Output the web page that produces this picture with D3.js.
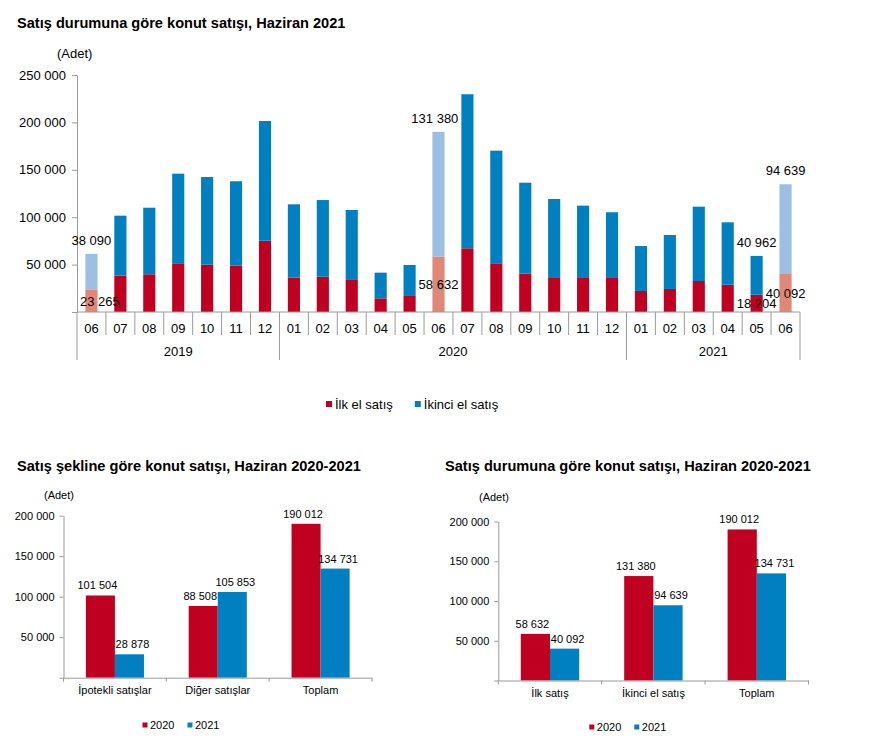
<!DOCTYPE html>
<html>
<head>
<meta charset="utf-8">
<script src="https://cdn.jsdelivr.net/npm/d3@7"></script>
<style>
  body { margin: 0; background: #fff; }
  svg { display: block; font-family: "Liberation Sans", Arial, sans-serif; }
  .title { font-weight: bold; font-size: 14.6px; fill: #000; }
</style>
</head>
<body>
<svg id="chart" width="872" height="746"></svg>
<script>
// --- top chart: monthly sales by status ---
const periods = ["2019-06","2019-07","2019-08","2019-09","2019-10","2019-11","2019-12",
  "2020-01","2020-02","2020-03","2020-04","2020-05","2020-06","2020-07","2020-08","2020-09","2020-10","2020-11","2020-12",
  "2021-01","2021-02","2021-03","2021-04","2021-05","2021-06"];
const ilkEl = [23265, 38300, 39800, 51400, 49900, 48800, 75200,
  36200, 37300, 33800, 14400, 16900, 58632, 67200, 51400, 40400, 35900, 35900, 35900,
  22200, 24300, 32700, 28800, 18204, 40092];
const ikinciEl = [38090, 63300, 70200, 94500, 92500, 89100, 126300,
  77400, 80800, 73800, 27100, 32700, 131380, 162500, 118800, 96000, 83300, 76300, 69300,
  47400, 56900, 78400, 65800, 40962, 94639];
const highlighted = ["2019-06", "2020-06", "2021-06"];
const labelled = ["2019-06", "2020-06", "2021-05", "2021-06"];
const topSeries = ["İlk el satış", "İkinci el satış"];
const topTicks = [0, 50000, 100000, 150000, 200000, 250000];

// --- bottom charts ---
const seriesYears = ["2020", "2021"];
const sekilCats = ["İpotekli satışlar", "Diğer satışlar", "Toplam"];
const sekil2020 = [101504, 88508, 190012];
const sekil2021 = [28878, 105853, 134731];
const durumCats = ["İlk satış", "İkinci el satış", "Toplam"];
const durum2020 = [58632, 131380, 190012];
const durum2021 = [40092, 94639, 134731];
const bottomTicks = [0, 50000, 100000, 150000, 200000];

const RED = "#c00020", BLUE = "#0080c0", RED_LIGHT = "#e08878", BLUE_LIGHT = "#9dc0e2";
const AXIS = "#9a9a9a";

const fmt = d3.formatLocale({decimal: ",", thousands: " ", grouping: [3], currency: ["", ""]}).format(",d");
const svg = d3.select("#chart");

drawTop();
drawGrouped({
  title: "Satış şekline göre konut satışı, Haziran 2020-2021",
  titleX: 17, adetX: 44, adetY: 499,
  x0: 63.5, x1: 372, yBase: 677.7, yMax: 515.7, legendX: 142.5, legendY: 725,
  cats: sekilCats, v2020: sekil2020, v2021: sekil2021
});
drawGrouped({
  title: "Satış durumuna göre konut satışı, Haziran 2020-2021",
  titleX: 445, adetX: 479, adetY: 501,
  x0: 498.3, x1: 808.5, yBase: 680.5, yMax: 521.5, legendX: 589.3, legendY: 727,
  cats: durumCats, v2020: durum2020, v2021: durum2021
});

function drawTop() {
  const left = 77, right = 800, base = 312, top = 75;

  svg.append("text").attr("class", "title").attr("x", 17).attr("y", 28)
    .text("Satış durumuna göre konut satışı, Haziran 2021");
  svg.append("text").attr("x", 57).attr("y", 58).attr("font-size", 13).text("(Adet)");

  const x = d3.scaleBand().domain(periods).range([left, right]);
  const y = d3.scaleLinear().domain([0, 250000]).range([base, top]);
  const barW = x.bandwidth() * 0.42;
  const barX = p => x(p) + (x.bandwidth() - barW) / 2;

  const yAxis = svg.append("g")
    .attr("transform", `translate(${left},0)`)
    .call(d3.axisLeft(y).tickValues(topTicks).tickSize(5).tickSizeOuter(0).tickPadding(6)
      .tickFormat(d => d === 0 ? "" : fmt(d)));
  yAxis.selectAll("text").attr("font-size", 13).attr("fill", "#000").attr("font-family", null);
  yAxis.selectAll("line, path").attr("stroke", AXIS);

  const rows = periods.map((p, i) => ({p, ilk: ilkEl[i], ikinci: ikinciEl[i], hi: highlighted.includes(p)}));

  const bars = svg.append("g");
  bars.selectAll("rect.ilk").data(rows).join("rect")
    .attr("class", "ilk")
    .attr("x", d => barX(d.p)).attr("width", barW)
    .attr("y", d => y(d.ilk)).attr("height", d => base - y(d.ilk))
    .attr("fill", d => d.hi ? RED_LIGHT : RED);
  bars.selectAll("rect.ikinci").data(rows).join("rect")
    .attr("class", "ikinci")
    .attr("x", d => barX(d.p)).attr("width", barW)
    .attr("y", d => y(d.ilk + d.ikinci)).attr("height", d => y(d.ilk) - y(d.ilk + d.ikinci))
    .attr("fill", d => d.hi ? BLUE_LIGHT : BLUE);

  // x axis: baseline, month separators, year separators
  const g = svg.append("g").attr("stroke", AXIS).attr("fill", "none");
  g.append("line").attr("x1", left).attr("x2", right).attr("y1", base).attr("y2", base);
  const step = x.step();
  const yearOf = p => p.slice(0, 4);
  const bounds = d3.range(periods.length + 1).map(i => ({
    x: left + i * step,
    yearEdge: i === 0 || i === periods.length || yearOf(periods[i]) !== yearOf(periods[i - 1])
  }));
  g.selectAll("line.sep").data(bounds).join("line")
    .attr("class", "sep")
    .attr("x1", d => d.x).attr("x2", d => d.x)
    .attr("y1", base).attr("y2", d => d.yearEdge ? 360 : 335);

  svg.append("g").selectAll("text").data(periods).join("text")
    .attr("x", p => x(p) + x.bandwidth() / 2).attr("y", 333)
    .attr("text-anchor", "middle").attr("font-size", 13)
    .text(p => p.slice(5));

  const years = Array.from(d3.group(periods, yearOf), ([yr, ps]) => ({yr, a: x(ps[0]), b: x(ps[ps.length - 1]) + step}));
  svg.append("g").selectAll("text").data(years).join("text")
    .attr("x", d => (d.a + d.b) / 2).attr("y", 356)
    .attr("text-anchor", "middle").attr("font-size", 13)
    .text(d => d.yr);

  // value labels
  const lab = svg.append("g").attr("font-size", 13).attr("text-anchor", "middle");
  rows.filter(d => labelled.includes(d.p)).forEach(d => {
    const cx = barX(d.p) + barW / 2;
    const i = periods.indexOf(d.p);
    const next = periods[i + 1];
    // second hand: above the bar
    const t2 = lab.append("text").attr("y", y(d.ilk + d.ikinci) - 9).text(fmt(d.ikinci));
    let w = t2.node().getComputedTextLength();
    let px = Math.max(cx, left + 3 + w / 2);
    if (next && ilkEl[i + 1] + ikinciEl[i + 1] > d.ilk + d.ikinci) px = Math.min(px, barX(next) - 3 - w / 2);
    t2.attr("x", px);
    // first hand: in the middle of the red segment
    const t1 = lab.append("text").attr("y", (y(d.ilk) + base) / 2).attr("dy", "0.35em").text(fmt(d.ilk));
    w = t1.node().getComputedTextLength();
    t1.attr("x", Math.max(cx, left + 3 + w / 2));
  });

  legend(326, 404, 13, 6, 9, 22, [RED, BLUE], topSeries);
}

function drawGrouped(o) {
  svg.append("text").attr("class", "title").attr("x", o.titleX).attr("y", 471).text(o.title);
  svg.append("text").attr("x", o.adetX).attr("y", o.adetY).attr("font-size", 11).text("(Adet)");

  const x = d3.scaleBand().domain(o.cats).range([o.x0, o.x1]);
  const inner = d3.scaleBand().domain(seriesYears).range([0, x.bandwidth() * 0.565]);
  const off = (x.bandwidth() - x.bandwidth() * 0.565) / 2;
  const y = d3.scaleLinear().domain([0, 200000]).range([o.yBase, o.yMax]);

  const yAxis = svg.append("g")
    .attr("transform", `translate(${o.x0},0)`)
    .call(d3.axisLeft(y).tickValues(bottomTicks).tickSize(4).tickSizeOuter(0).tickPadding(5)
      .tickFormat(d => d === 0 ? "" : fmt(d)));
  yAxis.selectAll("text").attr("font-size", 11).attr("fill", "#000").attr("font-family", null);
  yAxis.selectAll("line, path").attr("stroke", AXIS);

  const rows = [];
  o.cats.forEach((c, i) => {
    rows.push({c, yr: "2020", v: o.v2020[i]});
    rows.push({c, yr: "2021", v: o.v2021[i]});
  });

  svg.append("g").selectAll("rect").data(rows).join("rect")
    .attr("x", d => x(d.c) + off + inner(d.yr)).attr("width", inner.bandwidth())
    .attr("y", d => y(d.v)).attr("height", d => o.yBase - y(d.v))
    .attr("fill", d => d.yr === "2020" ? RED : BLUE);

  svg.append("g").selectAll("text").data(rows).join("text")
    .attr("x", d => x(d.c) + off + inner(d.yr) + inner.bandwidth() / 2 + (d.yr === "2020" ? -3 : 3))
    .attr("y", d => y(d.v) - 6)
    .attr("text-anchor", "middle").attr("font-size", 11)
    .text(d => fmt(d.v));

  const xAxis = svg.append("g")
    .attr("transform", `translate(0,${o.yBase})`)
    .call(d3.axisBottom(x).tickSize(0).tickPadding(9).tickSizeOuter(0));
  xAxis.select("path").attr("stroke", AXIS);
  xAxis.selectAll("text").attr("font-size", 11).attr("fill", "#000").attr("font-family", null);
  const edges = o.cats.map(c => x(c)).concat([o.x1]);
  xAxis.selectAll("line.edge").data(edges).join("line")
    .attr("class", "edge").attr("x1", d => d).attr("x2", d => d)
    .attr("y1", 0).attr("y2", 4).attr("stroke", AXIS);

  legend(o.legendX, o.legendY, 11, 5, 7.5, 13, [RED, BLUE], seriesYears);
}

function legend(x0, cy, size, sq, gap, spacing, colors, names) {
  const g = svg.append("g");
  let x = x0;
  names.forEach((n, i) => {
    g.append("rect").attr("x", x).attr("y", cy - sq / 2).attr("width", sq).attr("height", sq).attr("fill", colors[i]);
    const t = g.append("text").attr("x", x + gap).attr("y", cy).attr("dy", "0.35em")
      .attr("font-size", size).text(n);
    x += gap + t.node().getComputedTextLength() + spacing;
  });
}
</script>
</body>
</html>
